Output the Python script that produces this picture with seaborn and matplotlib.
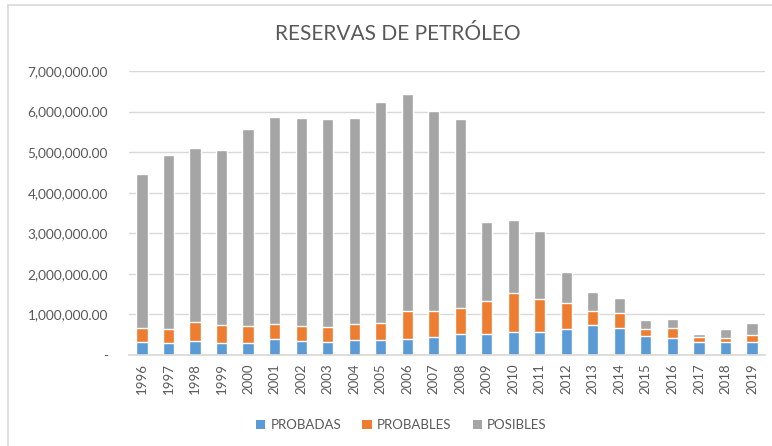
import numpy as np
import pandas as pd
import matplotlib
matplotlib.use("Agg")
import matplotlib.pyplot as plt
import seaborn as sns
from matplotlib.patches import Patch, Rectangle
from matplotlib.ticker import FuncFormatter

years = [str(y) for y in range(1996, 2020)]
probadas = [330000, 300000, 345000, 290000, 300000, 390000, 345000, 330000, 380000, 380000,
            390000, 435000, 526000, 526000, 567000, 567000, 630000, 730000, 670000, 460000,
            420000, 330000, 330000, 330000]
probables = [340000, 350000, 475000, 450000, 415000, 366000, 370000, 360000, 390000, 410000,
             700000, 655000, 634000, 804000, 953000, 803000, 650000, 360000, 360000, 190000,
             250000, 110000, 90000, 155000]
posibles = [3780000, 4290000, 4270000, 4310000, 4865000, 5114000, 5135000, 5120000, 5080000, 5440000,
            5340000, 4920000, 4650000, 1950000, 1820000, 1680000, 770000, 455000, 380000, 210000,
            230000, 80000, 230000, 295000]
series_names = ["PROBADAS", "PROBABLES", "POSIBLES"]
colors = ["#5B9BD5", "#ED7D31", "#A5A5A5"]

df = pd.DataFrame({"year": years, "PROBADAS": probadas, "PROBABLES": probables, "POSIBLES": posibles})
df["c1"] = df["PROBADAS"]
df["c2"] = df["PROBADAS"] + df["PROBABLES"]
df["c3"] = df["c2"] + df["POSIBLES"]

sns.set_theme(style="white")
plt.rcParams["font.family"] = ["Lato", "DejaVu Sans"]

fig = plt.figure(figsize=(7.72, 4.46), dpi=100)
ax = fig.add_axes([0.1667, 0.204, 0.8246, 0.6368])

for col, c in zip(["c3", "c2", "c1"], colors[::-1]):
    sns.barplot(data=df, x="year", y=col, color=c, width=0.42, ax=ax, saturation=1)

ax.set_ylim(0, 7000000)
ax.set_yticks(np.arange(0, 7000001, 1000000))
ax.yaxis.set_major_formatter(FuncFormatter(lambda v, p: "-" if v == 0 else f"{v:,.2f}"))
ax.grid(axis="y", color="#D9D9D9", linewidth=1)
ax.set_axisbelow(True)
for s in ["top", "right", "left"]:
    ax.spines[s].set_visible(False)
ax.spines["bottom"].set_color("#D9D9D9")
ax.set_xlabel("")
ax.set_ylabel("")
ax.tick_params(axis="y", colors="#595959", labelsize=9.8, length=0, pad=15)
ax.tick_params(axis="x", colors="#595959", labelsize=9.5, length=0, pad=6, labelrotation=90)
ax.set_xlim(-0.5, len(years) - 0.5)

fig.text(0.515, 0.923, "RESERVAS DE PETRÓLEO", ha="center", va="center", fontsize=15, color="#595959")

handles = [Patch(facecolor=c, edgecolor="none", label=n) for c, n in zip(colors, series_names)]
fig.legend(handles=handles, loc="center", bbox_to_anchor=(0.52, 0.047), ncol=3, frameon=False,
           fontsize=9.5, labelcolor="#595959", handlelength=0.7, handleheight=0.7, handletextpad=0.4,
           columnspacing=1.6)

fig.patches.append(Rectangle((8 / 772, -0.1), 1.2, 1.1 - 4.5 / 446, transform=fig.transFigure,
                             fill=False, edgecolor="#D9D9D9", linewidth=1.2))

fig.savefig("out.png", dpi=100)
